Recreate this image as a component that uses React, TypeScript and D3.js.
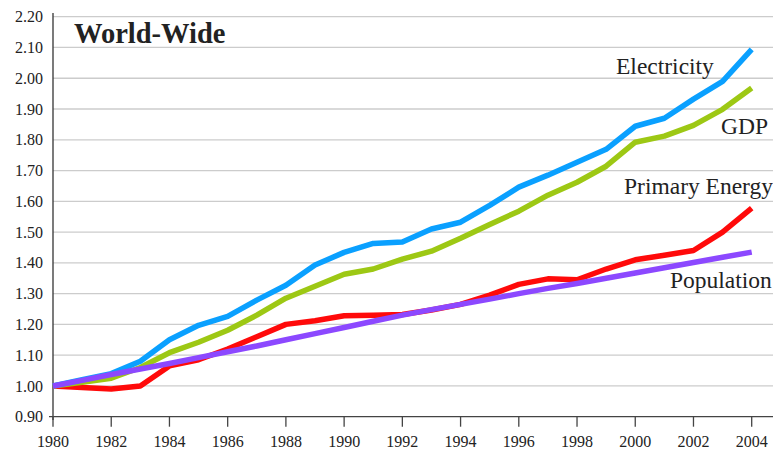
import { useEffect, useRef } from "react";
import * as d3 from "d3";

const W = 773;
const H = 452;

const YEARS = d3.range(1980, 2005);
const X_TICKS = d3.range(1980, 2005, 2);
const Y_TICKS = [0.9, 1.0, 1.1, 1.2, 1.3, 1.4, 1.5, 1.6, 1.7, 1.8, 1.9, 2.0, 2.1, 2.2];

const ELECTRICITY = [
  1.0, 1.02, 1.04, 1.08, 1.15, 1.197, 1.226, 1.279, 1.327, 1.393, 1.434, 1.463, 1.468,
  1.51, 1.532, 1.587, 1.646, 1.685, 1.727, 1.769, 1.844, 1.87, 1.932, 1.99, 2.094,
];
const GDP = [
  1.0, 1.012, 1.025, 1.06, 1.108, 1.142, 1.181, 1.23, 1.285, 1.324, 1.363, 1.38, 1.412,
  1.438, 1.48, 1.525, 1.568, 1.62, 1.662, 1.714, 1.792, 1.812, 1.847, 1.899, 1.968,
];
const PRIMARY_ENERGY = [
  1.0, 0.995, 0.99, 1.0, 1.065, 1.085, 1.12, 1.16, 1.2, 1.212, 1.228, 1.23, 1.232,
  1.247, 1.265, 1.295, 1.33, 1.348, 1.345, 1.38, 1.41, 1.425, 1.44, 1.5, 1.578,
];
const POPULATION = [
  1.0, 1.018, 1.037, 1.055, 1.073, 1.092, 1.111, 1.13, 1.15, 1.17, 1.19, 1.21, 1.23,
  1.248, 1.265, 1.282, 1.3, 1.317, 1.333, 1.35, 1.367, 1.384, 1.401, 1.418, 1.435,
];

// draw order: bottom first
const SERIES = [
  { name: "Primary Energy", values: PRIMARY_ENERGY, color: "#ff0a0a", label: [624, 194] },
  { name: "GDP", values: GDP, color: "#9dc814", label: [721, 134] },
  { name: "Electricity", values: ELECTRICITY, color: "#0aa0ff", label: [616, 74] },
  { name: "Population", values: POPULATION, color: "#8c48ff", label: [670, 288] },
];

const FONT = "Liberation Serif";

export default function App() {
  const ref = useRef<SVGSVGElement>(null);

  useEffect(() => {
    const svg = d3.select(ref.current);
    svg.selectAll("*").remove();

    const x = d3.scaleLinear().domain([1980, 2004]).range([53, 751.7]);
    const y = d3.scaleLinear().domain([0.9, 2.2]).range([416.7, 16.7]);

    // gridlines
    svg
      .append("g")
      .selectAll("line")
      .data(Y_TICKS.filter((t) => t > 0.9))
      .join("line")
      .attr("x1", 53)
      .attr("x2", W)
      .attr("y1", (d) => y(d))
      .attr("y2", (d) => y(d))
      .attr("stroke", "#cccccc")
      .attr("stroke-width", 1.3);

    // y labels
    svg
      .append("g")
      .selectAll("text")
      .data(Y_TICKS)
      .join("text")
      .attr("x", 43)
      .attr("y", (d) => y(d))
      .attr("dy", "0.35em")
      .attr("text-anchor", "end")
      .style("font-family", FONT)
      .style("font-size", "16px")
      .attr("fill", "#222")
      .text((d) => d3.format(".2f")(d));

    // axes
    svg
      .append("line")
      .attr("x1", 53)
      .attr("x2", 53)
      .attr("y1", 13)
      .attr("y2", 420)
      .attr("stroke", "#333")
      .attr("stroke-width", 1.3);
    svg
      .append("line")
      .attr("x1", 49)
      .attr("x2", W)
      .attr("y1", y(0.9))
      .attr("y2", y(0.9))
      .attr("stroke", "#444")
      .attr("stroke-width", 1.3);

    const xt = svg.append("g");
    xt.selectAll("line")
      .data(X_TICKS)
      .join("line")
      .attr("x1", (d) => x(d))
      .attr("x2", (d) => x(d))
      .attr("y1", y(0.9))
      .attr("y2", y(0.9) + 10)
      .attr("stroke", "#444")
      .attr("stroke-width", 1.3);
    xt.selectAll("text")
      .data(X_TICKS)
      .join("text")
      .attr("x", (d) => x(d))
      .attr("y", 447)
      .attr("text-anchor", "middle")
      .style("font-family", FONT)
      .style("font-size", "16px")
      .attr("fill", "#222")
      .text((d) => String(d));

    // lines
    const line = d3
      .line<number>()
      .x((_, i) => x(YEARS[i]))
      .y((d) => y(d));

    svg
      .append("g")
      .selectAll("path")
      .data(SERIES)
      .join("path")
      .attr("d", (s) => line(s.values))
      .attr("fill", "none")
      .attr("stroke", (s) => s.color)
      .attr("stroke-width", 5.5)
      .attr("stroke-linejoin", "round");

    // series labels
    svg
      .append("g")
      .selectAll("text")
      .data(SERIES)
      .join("text")
      .attr("x", (s) => s.label[0])
      .attr("y", (s) => s.label[1])
      .style("font-family", FONT)
      .style("font-size", "23.5px")
      .attr("fill", "#222")
      .text((s) => s.name);

    svg
      .append("text")
      .attr("x", 74)
      .attr("y", 43)
      .style("font-family", FONT)
      .style("font-size", "28.5px")
      .style("font-weight", "bold")
      .attr("fill", "#222")
      .text("World-Wide");
  }, []);

  return (
    <svg
      ref={ref}
      width={W}
      height={H}
      style={{ position: "absolute", left: 0, top: 0, background: "#fff" }}
    />
  );
}
